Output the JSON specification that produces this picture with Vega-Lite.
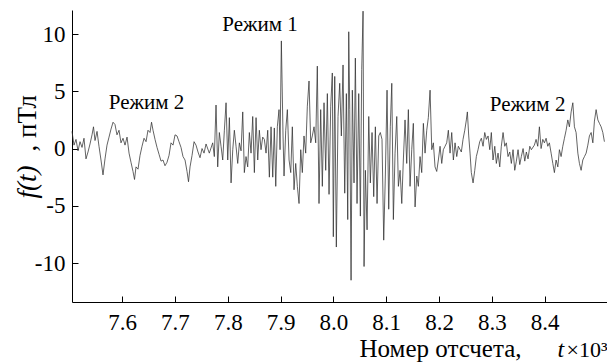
{
  "$schema": "https://vega.github.io/schema/vega-lite/v6.json",
  "width": 535,
  "height": 292,
  "autosize": "none",
  "padding": {"left": 72, "top": 10, "right": 0, "bottom": 61},
  "background": "white",
  "config": {
    "view": {"stroke": null},
    "font": "Liberation Serif",
    "text": {"font": "Liberation Serif"},
    "axis": {
      "grid": false,
      "domainColor": "black",
      "tickColor": "black",
      "labelColor": "black",
      "titleColor": "black",
      "labelFont": "Liberation Serif",
      "titleFont": "Liberation Serif",
      "labelFontSize": 23,
      "titleFontSize": 25,
      "titleFontWeight": "normal",
      "tickSize": -6,
      "domainWidth": 1,
      "tickWidth": 1
    }
  },
  "datasets": {
    "signal": [
      {"t":7.5050,"f":1.5},{"t":7.5088,"f":0.3},{"t":7.5126,"f":0.8},{"t":7.5164,"f":-0.2},{"t":7.5202,"f":0.6},{"t":7.5240,"f":0.1},{"t":7.5277,"f":0.9},{"t":7.5315,"f":-0.9},{"t":7.5353,"f":-0.3},{"t":7.5391,"f":0.4},{"t":7.5429,"f":1.2},{"t":7.5457,"f":1.9},{"t":7.5486,"f":0.7},{"t":7.5524,"f":1.5},{"t":7.5561,"f":0.2},{"t":7.5599,"f":-1.0},{"t":7.5637,"f":-2.3},{"t":7.5675,"f":-0.9},{"t":7.5713,"f":0.3},{"t":7.5751,"f":1.0},{"t":7.5789,"f":1.7},{"t":7.5827,"f":2.3},{"t":7.5864,"f":2.1},{"t":7.5902,"f":1.2},{"t":7.5940,"f":1.6},{"t":7.5978,"f":0.5},{"t":7.6016,"f":0.9},{"t":7.6054,"f":0.3},{"t":7.6092,"f":1.0},{"t":7.6130,"f":-0.4},{"t":7.6167,"f":-1.2},{"t":7.6205,"f":-2.0},{"t":7.6234,"f":-2.7},{"t":7.6262,"f":-1.6},{"t":7.6300,"f":-1.8},{"t":7.6338,"f":-0.6},
      {"t":7.6376,"f":0.2},{"t":7.6414,"f":0.9},{"t":7.6452,"f":0.6},{"t":7.6489,"f":1.6},{"t":7.6527,"f":1.4},{"t":7.6556,"f":2.3},{"t":7.6584,"f":1.6},{"t":7.6622,"f":0.8},{"t":7.6660,"f":0.1},{"t":7.6698,"f":-0.5},{"t":7.6736,"f":-1.1},{"t":7.6773,"f":-1.0},{"t":7.6811,"f":-1.5},{"t":7.6849,"f":-1.2},{"t":7.6887,"f":-0.6},{"t":7.6925,"f":0.5},{"t":7.6963,"f":0.3},{"t":7.7001,"f":1.2},{"t":7.7039,"f":1.1},{"t":7.7076,"f":0.6},{"t":7.7114,"f":0.1},{"t":7.7152,"f":-0.7},{"t":7.7190,"f":-1.0},{"t":7.7228,"f":-2.0},{"t":7.7256,"f":-2.9},{"t":7.7285,"f":-1.6},{"t":7.7323,"f":-0.6},{"t":7.7361,"f":0.6},{"t":7.7398,"f":0.3},{"t":7.7436,"f":-0.3},{"t":7.7474,"f":-0.8},{"t":7.7512,"f":0.0},{"t":7.7550,"f":-0.4},{"t":7.7588,"f":0.4},
      {"t":7.7650,"f":-0.4},{"t":7.7714,"f":0.5},{"t":7.7745,"f":-0.7},{"t":7.7777,"f":3.8},{"t":7.7809,"f":-1.6},{"t":7.7840,"f":1.4},{"t":7.7872,"f":0.2},{"t":7.7904,"f":-1.0},{"t":7.7935,"f":1.6},{"t":7.7967,"f":4.0},{"t":7.7999,"f":-1.0},{"t":7.8030,"f":2.7},{"t":7.8062,"f":-3.0},{"t":7.8094,"f":-0.1},{"t":7.8124,"f":1.6},{"t":7.8156,"f":0.2},{"t":7.8188,"f":-1.3},{"t":7.8219,"f":0.5},{"t":7.8251,"f":-0.2},{"t":7.8283,"f":3.2},{"t":7.8313,"f":-2.1},{"t":7.8345,"f":-0.7},{"t":7.8377,"f":-1.6},{"t":7.8408,"f":1.4},{"t":7.8440,"f":-0.4},{"t":7.8472,"f":2.8},{"t":7.8503,"f":-2.1},{"t":7.8535,"f":2.7},{"t":7.8567,"f":-1.0},{"t":7.8597,"f":1.6},{"t":7.8629,"f":-0.1},{"t":7.8661,"f":1.0},{"t":7.8692,"f":0.8},{"t":7.8724,"f":-0.4},{"t":7.8756,"f":1.6},{"t":7.8787,"f":-2.5},{"t":7.8819,"f":1.9},{"t":7.8851,"f":-2.5},{"t":7.8881,"f":1.8},
      {"t":7.8908,"f":-3.3},{"t":7.8938,"f":1.9},{"t":7.8970,"f":3.4},{"t":7.8989,"f":-0.1},{"t":7.9014,"f":9.4},{"t":7.9046,"f":1.1},{"t":7.9065,"f":-2.4},{"t":7.9097,"f":1.6},{"t":7.9128,"f":3.4},{"t":7.9160,"f":-1.0},{"t":7.9192,"f":-2.1},{"t":7.9222,"f":1.9},{"t":7.9254,"f":-3.6},{"t":7.9286,"f":-1.3},{"t":7.9317,"f":-3.3},{"t":7.9349,"f":-4.8},{"t":7.9381,"f":-0.1},{"t":7.9411,"f":-2.1},{"t":7.9443,"f":1.1},{"t":7.9475,"f":-0.4},{"t":7.9506,"f":3.7},{"t":7.9538,"f":5.9},{"t":7.9570,"f":0.5},{"t":7.9600,"f":1.1},{"t":7.9633,"f":1.9},{"t":7.9665,"f":0.5},{"t":7.9695,"f":7.2},{"t":7.9727,"f":-4.8},{"t":7.9759,"f":3.4},{"t":7.9790,"f":-3.3},{"t":7.9822,"f":4.0},{"t":7.9854,"f":-1.9},{"t":7.9885,"f":4.8},{"t":7.9917,"f":-4.0},{"t":7.9949,"f":3.7},{"t":7.9979,"f":6.6},{"t":7.9998,"f":-7.7},
      {"t":8.0025,"f":6.3},{"t":8.0055,"f":-8.6},{"t":8.0087,"f":2.8},{"t":8.0119,"f":5.7},{"t":8.0150,"f":1.1},{"t":8.0182,"f":7.3},{"t":8.0214,"f":-3.9},{"t":8.0245,"f":4.8},{"t":8.0271,"f":-6.2},{"t":8.0290,"f":10.2},{"t":8.0309,"f":3.4},{"t":8.0334,"f":-11.5},{"t":8.0358,"f":5.1},{"t":8.0390,"f":-3.0},{"t":8.0415,"f":7.9},{"t":8.0447,"f":-4.8},{"t":8.0479,"f":4.8},{"t":8.0510,"f":-5.9},{"t":8.0536,"f":6.9},{"t":8.0561,"f":12.0},{"t":8.0580,"f":-10.3},{"t":8.0605,"f":-1.9},{"t":8.0637,"f":-7.1},{"t":8.0669,"f":2.8},{"t":8.0699,"f":-3.0},{"t":8.0731,"f":1.4},{"t":8.0763,"f":-4.2},{"t":8.0794,"f":1.9},{"t":8.0826,"f":-4.8},{"t":8.0858,"f":1.1},{"t":8.0888,"f":1.4},{"t":8.0920,"f":0.8},{"t":8.0952,"f":-8.0},{"t":8.0983,"f":-2.4},{"t":8.1015,"f":5.1},{"t":8.1047,"f":-5.3},{"t":8.1077,"f":1.9},
      {"t":8.1105,"f":5.7},{"t":8.1135,"f":-6.2},{"t":8.1167,"f":-0.4},{"t":8.1199,"f":2.8},{"t":8.1230,"f":-3.3},{"t":8.1262,"f":-1.9},{"t":8.1294,"f":-4.8},{"t":8.1324,"f":-1.0},{"t":8.1356,"f":2.5},{"t":8.1388,"f":-1.3},{"t":8.1419,"f":3.4},{"t":8.1451,"f":-3.3},{"t":8.1483,"f":-0.1},{"t":8.1513,"f":2.2},{"t":8.1546,"f":-5.1},{"t":8.1578,"f":-2.4},{"t":8.1608,"f":-3.3},{"t":8.1640,"f":-0.7},{"t":8.1672,"f":-2.1},{"t":8.1703,"f":2.2},{"t":8.1735,"f":-0.4},{"t":8.1767,"f":1.6},{"t":8.1797,"f":2.7},{"t":8.1830,"f":5.1},{"t":8.1862,"f":-0.1},{"t":8.1892,"f":0.5},{"t":8.1924,"f":-1.6},{"t":8.1956,"f":-2.0},{"t":8.1987,"f":-1.0},{"t":8.2019,"f":0.2},{"t":8.2051,"f":-1.3},{"t":8.2081,"f":-0.1},{"t":8.2113,"f":0.2},{"t":8.2145,"f":0.5},{"t":8.2176,"f":1.6},{"t":8.2208,"f":-0.4},{"t":8.2240,"f":1.4},{"t":8.2271,"f":-1.0},{"t":8.2303,"f":0.5},{"t":8.2335,"f":-0.7},{"t":8.2365,"f":0.2},
      {"t":8.2422,"f":-0.3},{"t":8.2454,"f":0.8},{"t":8.2487,"f":1.6},{"t":8.2517,"f":2.5},{"t":8.2536,"f":3.2},{"t":8.2562,"f":1.1},{"t":8.2587,"f":-0.4},{"t":8.2611,"f":-2.1},{"t":8.2644,"f":-3.0},{"t":8.2676,"f":-1.9},{"t":8.2706,"f":-0.7},{"t":8.2738,"f":-0.1},{"t":8.2770,"f":0.6},{"t":8.2801,"f":0.9},{"t":8.2833,"f":0.2},{"t":8.2865,"f":1.4},{"t":8.2896,"f":0.8},{"t":8.2928,"f":1.1},{"t":8.2960,"f":-0.1},{"t":8.2990,"f":1.4},{"t":8.3022,"f":-1.0},{"t":8.3055,"f":0.2},{"t":8.3085,"f":-1.3},{"t":8.3117,"f":-0.4},{"t":8.3149,"f":-1.6},{"t":8.3179,"f":0.2},{"t":8.3212,"f":1.4},{"t":8.3244,"f":0.2},{"t":8.3274,"f":0.5},{"t":8.3306,"f":-0.7},{"t":8.3339,"f":-0.3},{"t":8.3369,"f":-1.3},{"t":8.3401,"f":-0.1},{"t":8.3433,"f":-1.9},{"t":8.3464,"f":-1.1},{"t":8.3496,"f":-0.1},{"t":8.3528,"f":-1.4},{"t":8.3558,"f":-0.7},{"t":8.3591,"f":0.0},{"t":8.3623,"f":-1.1},{"t":8.3653,"f":-0.3},{"t":8.3685,"f":-0.9},{"t":8.3718,"f":0.2},{"t":8.3748,"f":-0.1},
      {"t":8.3805,"f":0.3},{"t":8.3837,"f":0.8},{"t":8.3869,"f":0.2},{"t":8.3900,"f":1.9},{"t":8.3932,"f":0.0},{"t":8.3964,"f":0.8},{"t":8.3995,"f":0.5},{"t":8.4027,"f":0.9},{"t":8.4059,"f":0.2},{"t":8.4089,"f":0.5},{"t":8.4122,"f":-0.4},{"t":8.4154,"f":-1.3},{"t":8.4184,"f":-2.1},{"t":8.4216,"f":-1.0},{"t":8.4249,"f":-1.6},{"t":8.4279,"f":-0.1},{"t":8.4311,"f":-0.7},{"t":8.4343,"f":0.2},{"t":8.4374,"f":0.9},{"t":8.4406,"f":1.6},{"t":8.4438,"f":2.5},{"t":8.4468,"f":1.9},{"t":8.4501,"f":3.2},{"t":8.4533,"f":4.0},{"t":8.4563,"f":1.9},{"t":8.4595,"f":1.4},{"t":8.4628,"f":-0.4},{"t":8.4658,"f":-1.3},{"t":8.4690,"f":-1.9},{"t":8.4722,"f":-1.0},{"t":8.4753,"f":-0.7},{"t":8.4785,"f":-0.4},{"t":8.4817,"f":0.3},{"t":8.4847,"f":1.1},{"t":8.4880,"f":1.4},{"t":8.4912,"f":0.5},{"t":8.4942,"f":2.4},{"t":8.4974,"f":3.4},{"t":8.5007,"f":2.5},{"t":8.5037,"f":2.2},{"t":8.5069,"f":1.9},{"t":8.5101,"f":1.4},{"t":8.5131,"f":0.6}
    ],
    "notes2": [
      {"t": 7.6461, "f": 3.96, "label": "Режим 2"},
      {"t": 8.3677, "f": 3.83, "label": "Режим 2"}
    ],
    "notes1": [
      {"t": 7.861, "f": 10.77, "label": "Режим 1"}
    ]
  },
  "layer": [
    {
      "data": {"name": "signal"},
      "mark": {"type": "line", "color": "#303030", "strokeWidth": 0.75},
      "encoding": {
        "x": {"field": "t", "type": "quantitative",
          "scale": {"domain": [7.505, 8.518], "nice": false, "zero": false},
          "axis": {"values": [7.6, 7.7, 7.8, 7.9, 8.0, 8.1, 8.2, 8.3, 8.4], "format": ".1f", "labelPadding": 15,
            "title": "Номер отсчета,", "titleX": 287, "titleY": 54, "titleAlign": "left", "titleBaseline": "alphabetic"}},
        "y": {"field": "f", "type": "quantitative",
          "scale": {"domain": [-13.4, 12.1], "nice": false, "zero": false},
          "axis": {"values": [-10, -5, 0, 5, 10], "labelPadding": 13, "labelExpr": "'' + datum.value",
            "title": "f(t)", "titleFontStyle": "italic", "titleFontSize": 27, "titleX": -37, "titleY": 188, "titleAlign": "left", "titleBaseline": "alphabetic", "titleAngle": 270}}
      }
    },
    {
      "data": {"name": "notes2"},
      "mark": {"type": "text", "font": "Liberation Serif", "fontSize": 21, "color": "black", "align": "center", "baseline": "middle"},
      "encoding": {
        "x": {"field": "t", "type": "quantitative",
          "scale": {"domain": [7.505, 8.518], "nice": false, "zero": false},
          "axis": {"labels": false, "ticks": false, "domain": false, "orient": "bottom",
            "title": "t", "titleFontStyle": "italic", "titleFontSize": 24, "titleX": 485, "titleY": 54, "titleAlign": "left", "titleBaseline": "alphabetic"}},
        "y": {"field": "f", "type": "quantitative",
          "scale": {"domain": [-13.4, 12.1], "nice": false, "zero": false},
          "axis": {"labels": false, "ticks": false, "domain": false, "orient": "left",
            "title": ", пТл", "titleFontSize": 27, "titleX": -37, "titleY": 141, "titleAlign": "left", "titleBaseline": "alphabetic", "titleAngle": 270}},
        "text": {"field": "label"}
      }
    },
    {
      "data": {"name": "notes1"},
      "mark": {"type": "text", "font": "Liberation Serif", "fontSize": 21, "color": "black", "align": "center", "baseline": "middle"},
      "encoding": {
        "x": {"field": "t", "type": "quantitative",
          "scale": {"domain": [7.505, 8.518], "nice": false, "zero": false},
          "axis": {"labels": false, "ticks": false, "domain": false, "orient": "bottom",
            "title": "×10³", "titleFontSize": 22, "titleX": 494, "titleY": 54, "titleAlign": "left", "titleBaseline": "alphabetic"}},
        "y": {"field": "f", "type": "quantitative",
          "scale": {"domain": [-13.4, 12.1], "nice": false, "zero": false},
          "axis": null},
        "text": {"field": "label"}
      }
    }
  ],
  "resolve": {"scale": {"x": "independent", "y": "independent"}, "axis": {"x": "independent", "y": "independent"}}
}
